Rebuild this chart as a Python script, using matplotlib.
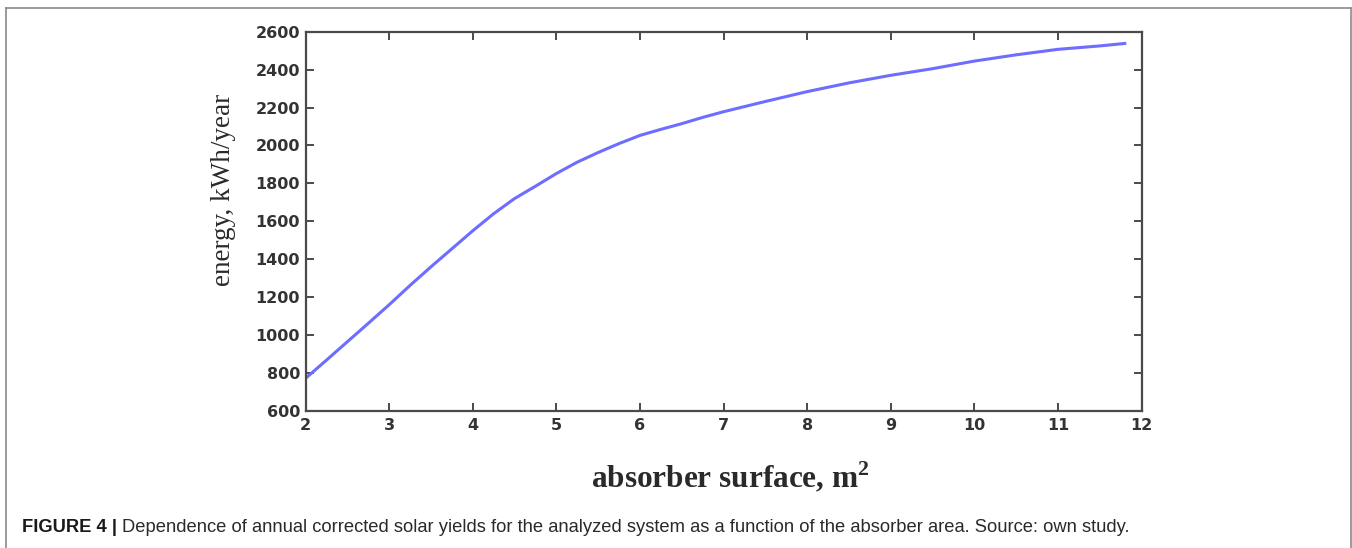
import matplotlib
matplotlib.use("Agg")
from matplotlib import pyplot as plt
from matplotlib.lines import Line2D

# absorber surface [m2] and annual energy [kWh/year]
area = [2.0, 2.25, 2.5, 2.75, 3.0, 3.25, 3.5, 3.75, 4.0, 4.25, 4.5, 4.75,
        5.0, 5.25, 5.5, 5.75, 6.0, 6.25, 6.5, 6.75, 7.0, 7.25, 7.5, 7.75,
        8.0, 8.5, 9.0, 9.5, 10.0, 10.5, 11.0, 11.5, 11.8]
energy = [772, 868, 965, 1062, 1160, 1262, 1360, 1455, 1550, 1640, 1720, 1785,
          1852, 1912, 1963, 2010, 2053, 2085, 2115, 2148, 2178, 2205, 2232, 2258,
          2284, 2330, 2370, 2405, 2445, 2478, 2507, 2525, 2538]

x_ticks = list(range(2, 13))
y_ticks = list(range(600, 2601, 200))

W, H, DPI = 1352, 548, 100
fig = plt.figure(figsize=(W / DPI, H / DPI), dpi=DPI)

# axes box in pixels: left 305, right 1141, top 32, bottom 411
ax = fig.add_axes([305.5 / W, 1 - 411 / H, (1141.5 - 305.5) / W, (411 - 31.7) / H])
ax.plot(area, energy, color='#6d6dff', linewidth=2.2)

ax.set_xlim(2, 12)
ax.set_ylim(600, 2600)
ax.set_xticks(x_ticks)
ax.set_yticks(y_ticks)
for sp in ax.spines.values():
    sp.set_color('#4a4a4a')
    sp.set_linewidth(1.6)
ax.tick_params(direction='in', length=6, width=1.4, color='#4a4a4a',
               top=True, right=True, labelsize=11.5, labelcolor='#333333')
ax.tick_params(axis='x', pad=5)
ax.tick_params(axis='y', pad=4)
for lab in ax.get_xticklabels() + ax.get_yticklabels():
    lab.set_family('DejaVu Sans')
    lab.set_weight('bold')

# axis titles, serif as in the original
fig.text(223 / W, 1 - 190 / H, 'energy, kWh/year', family='Liberation Serif',
         fontsize=19.5, color='#2a2a2a', rotation=90, ha='center', va='center')
fig.text(730 / W, 1 - 477 / H, r'absorber surface, m$^{\mathregular{2}}$',
         family='Liberation Serif', fontsize=22.5, color='#2a2a2a',
         ha='center', va='center', weight='bold')

# frame around the figure (bottom edge is cut off in the original)
bc = '#8a8a8a'
fig.add_artist(Line2D([6 / W, 6 / W], [0, 1 - 8 / H], color=bc, lw=1.2))
fig.add_artist(Line2D([6 / W, 1350.5 / W], [1 - 8 / H, 1 - 8 / H], color=bc, lw=1.2))
fig.add_artist(Line2D([1350.5 / W, 1350.5 / W], [0, 1 - 8 / H], color=bc, lw=1.2))

# caption: bold lead-in followed by regular text
renderer = fig.canvas.get_renderer()
cap_y = 1 - 527 / H
t = fig.text(22 / W, cap_y, 'FIGURE 4 | ', family='Liberation Sans', fontsize=13.25,
             weight='bold', color='#1a1a1a', ha='left', va='center')
bb = t.get_window_extent(renderer=renderer).transformed(fig.transFigure.inverted())
fig.text(bb.x1, cap_y,
         'Dependence of annual corrected solar yields for the analyzed system as a '
         'function of the absorber area. Source: own study.',
         family='Liberation Sans', fontsize=13.25, color='#2a2a2a', ha='left', va='center')

fig.savefig('out.png', dpi=DPI)
